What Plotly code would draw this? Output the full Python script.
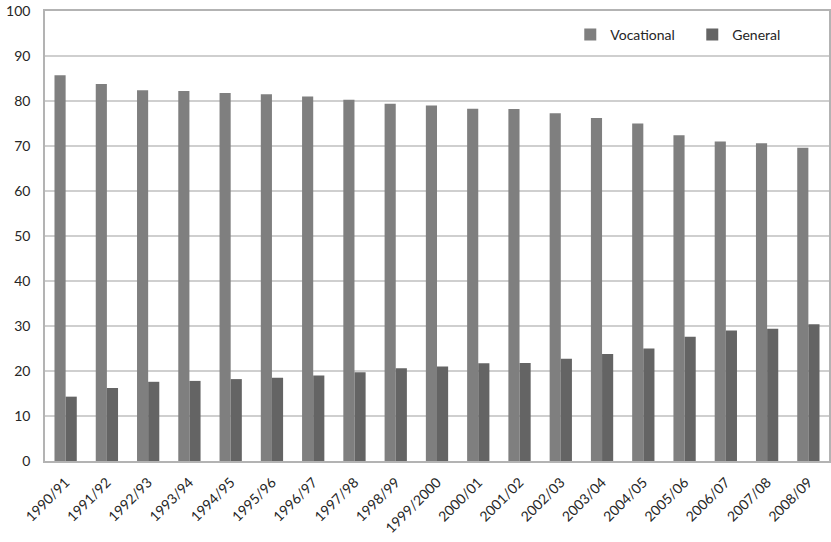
import plotly.graph_objects as go

# School years on the category axis
years = ["1990/91", "1991/92", "1992/93", "1993/94", "1994/95", "1995/96",
         "1996/97", "1997/98", "1998/99", "1999/2000", "2000/01", "2001/02",
         "2002/03", "2003/04", "2004/05", "2005/06", "2006/07", "2007/08",
         "2008/09"]

# Share of students (%) by programme type
vocational = [85.7, 83.8, 82.4, 82.2, 81.8, 81.5, 81.0, 80.3, 79.4, 79.0,
              78.3, 78.2, 77.3, 76.2, 75.0, 72.4, 71.0, 70.6, 69.6]
general = [14.3, 16.2, 17.6, 17.8, 18.2, 18.5, 19.0, 19.7, 20.6, 21.0,
           21.7, 21.8, 22.7, 23.8, 25.0, 27.6, 29.0, 29.4, 30.4]

y_ticks = list(range(0, 101, 10))

font_family = "Lato, 'Open Sans', sans-serif"

fig = go.Figure()
fig.add_trace(go.Bar(x=years, y=vocational, name="Vocational",
                     marker=dict(color="#7f7f7f", line=dict(width=0))))
fig.add_trace(go.Bar(x=years, y=general, name="General",
                     marker=dict(color="#646464", line=dict(width=0))))

fig.update_layout(
    width=831, height=542,
    margin=dict(l=45, r=2, t=11, b=81, autoexpand=False),
    paper_bgcolor="white", plot_bgcolor="white",
    barmode="group", bargap=0.46, bargroupgap=0,
    font=dict(family=font_family, size=13, color="#262626"),
    legend=dict(orientation="h", x=0.670, y=0.947, xanchor="left",
                yanchor="middle", bgcolor="rgba(0,0,0,0)",
                font=dict(size=14, color="#262626"),
                itemwidth=30, entrywidth=77, entrywidthmode="pixels",
                traceorder="normal"),
    showlegend=True,
)

fig.update_xaxes(
    type="category", tickangle=-45, tickfont=dict(size=14),
    showline=True, linecolor="#b3b3b3", linewidth=1.5, mirror=True,
    showgrid=False, ticks="", ticklen=0, ticklabelstandoff=6,
)
fig.update_yaxes(
    range=[0, 100], tickvals=y_ticks, ticktext=[str(v) for v in y_ticks],
    showgrid=True, gridcolor="#cfcfcf", gridwidth=1.5,
    showline=True, linecolor="#b3b3b3", linewidth=1.5, mirror=True,
    ticks="", ticklabelstandoff=10, tickfont=dict(size=14),
    zeroline=False,
)

fig.write_html("out.html")
